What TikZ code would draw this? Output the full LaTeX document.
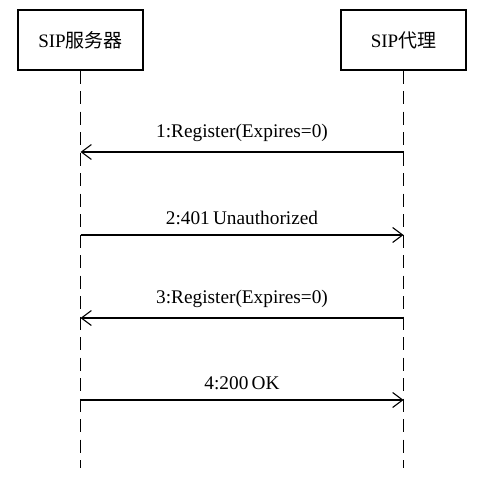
\documentclass[tikz,border=0pt]{standalone}
\usepackage{fontspec}
\setmainfont{Liberation Serif}
\newfontfamily\cjk{Noto Sans CJK SC}
\usetikzlibrary{arrows.meta}
\begin{document}
\begin{tikzpicture}[x=1pt,y=-1pt,
  actor/.style={draw,line width=1.3pt,minimum width=125pt,minimum height=60pt,inner sep=0pt,font=\fontsize{19}{21}\selectfont},
  lifeline/.style={line width=1.3pt,dash pattern=on 13pt off 7.5pt},
  msg/.style={line width=1.1pt,-{Straight Barb[length=10pt,width=15pt,line width=1.1pt]}},
  lbl/.style={font=\fontsize{19.3}{21}\selectfont,inner sep=0pt}]
\useasboundingbox (0,0) rectangle (481,486);
\node[actor] (srv) at (80.5,40) {SIP{\cjk 服务器}};
\node[actor] (prx) at (403.5,40) {SIP{\cjk 代理}};
\coordinate (srvend) at (80.5,468);
\coordinate (prxend) at (403.5,468);
\draw[lifeline] (srv.south) -- (srvend);
\draw[lifeline] (prx.south) -- (prxend);
\coordinate (a1s) at (403.5,152); \coordinate (a1e) at (80.5,152);
\coordinate (a2s) at (80.5,235); \coordinate (a2e) at (403.5,235);
\coordinate (a3s) at (403.5,318); \coordinate (a3e) at (80.5,318);
\coordinate (a4s) at (80.5,400); \coordinate (a4e) at (403.5,400);
\draw[msg] (a1s) -- (a1e) node[lbl,midway,above=10pt] (l1) {1:Register(Expires=0)};
\draw[msg] (a2s) -- (a2e) node[lbl,midway,above=10pt] (l2) {2:401\,Unauthorized};
\draw[msg] (a3s) -- (a3e) node[lbl,midway,above=10pt] (l3) {3:Register(Expires=0)};
\draw[msg] (a4s) -- (a4e) node[lbl,midway,above=10pt] (l4) {4:200\,OK};
\end{tikzpicture}
\end{document}
